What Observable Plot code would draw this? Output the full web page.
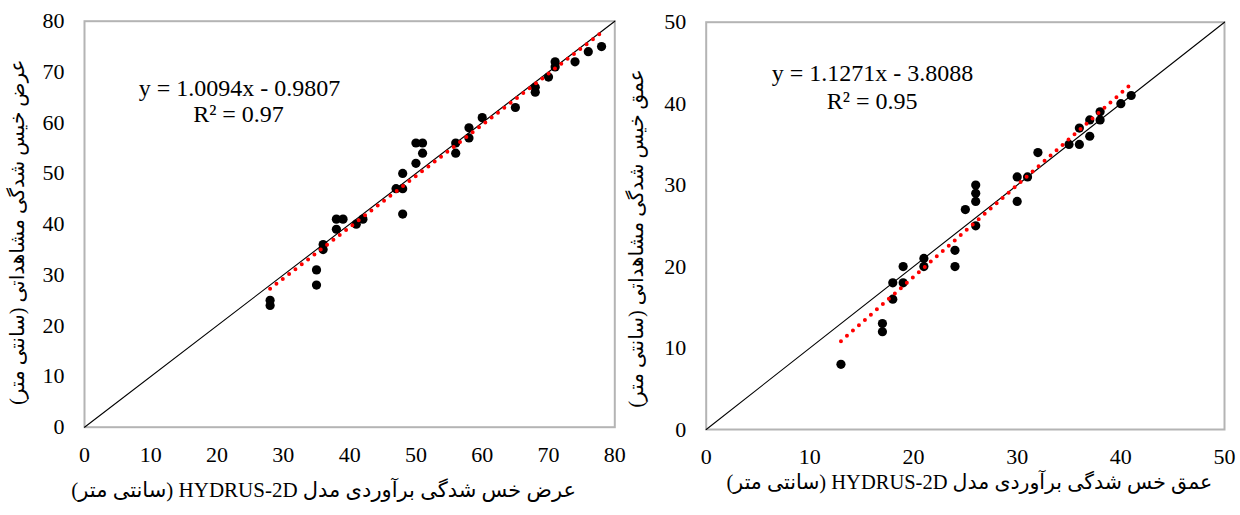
<!DOCTYPE html>
<html>
<head>
<meta charset="utf-8">
<script src="https://cdn.jsdelivr.net/npm/d3@7"></script>
<script src="https://cdn.jsdelivr.net/npm/@observablehq/plot@0.6"></script>
<style>
  body { margin: 0; background: #fff; }
  #wrap { position: relative; width: 1240px; height: 515px; overflow: hidden; background: #fff; }
  #left, #right { position: absolute; top: 0; }
  #left { left: 0; }
  #right { left: 620px; }
  svg text { font-family: "Liberation Serif", "DejaVu Sans", serif; }
</style>
</head>
<body>
<div id="wrap"><div id="left"></div><div id="right"></div></div>
<script>
// ---- Left panel: wetted width (cm) ----
const widthTicks = [0, 10, 20, 30, 40, 50, 60, 70, 80];
const widthPredicted = [28, 28, 35, 35, 36, 36, 38, 39, 38, 41, 42, 47, 48, 48, 48, 50, 50, 51, 51, 56, 56, 58, 58, 60, 65, 68, 68, 70, 71, 71, 74, 76, 78];
const widthObserved  = [25, 24, 31, 28, 36, 35, 41, 41, 39, 40, 41, 47, 47, 50, 42, 52, 56, 56, 54, 56, 54, 59, 57, 61, 63, 67, 66, 69, 72, 71, 72, 74, 75];
const widthTrendRange = [28, 78];
const widthSlope = 1.0094, widthIntercept = -0.9807;
const widthEquation = "y = 1.0094x - 0.9807";
const widthR2 = "R² = 0.97";
const widthXTitle = "عرض خس شدگی برآوردی مدل HYDRUS-2D (سانتی متر)";
const widthYTitle = "عرض خیس شدگی مشاهداتی (سانتی متر)";

// ---- Right panel: wetted depth (cm) ----
const depthTicks = [0, 10, 20, 30, 40, 50];
const depthPredicted = [13, 17, 17, 18, 18, 19, 19, 21, 21, 24, 24, 25, 26, 26, 26, 26, 30, 30, 31, 32, 35, 36, 36, 37, 37, 38, 38, 40, 41];
const depthObserved  = [8, 13, 12, 18, 16, 20, 18, 21, 20, 22, 20, 27, 30, 29, 28, 25, 31, 28, 31, 34, 35, 37, 35, 38, 36, 39, 38, 40, 41];
const depthTrendRange = [13, 41];
const depthSlope = 1.1271, depthIntercept = -3.8088;
const depthEquation = "y = 1.1271x - 3.8088";
const depthR2 = "R² = 0.95";
const depthXTitle = "عمق خس شدگی برآوردی مدل HYDRUS-2D (سانتی متر)";
const depthYTitle = "عمق خیس شدگی مشاهداتی (سانتی متر)";

const serif = "Liberation Serif, DejaVu Sans, serif";

function panel(o) {
  const pts = o.px.map((x, i) => ({x, y: o.py[i]}));
  const dom = [o.ticks[0], o.ticks[o.ticks.length - 1]];
  const ident = dom.map(v => ({x: v, y: v}));
  const trend = o.trendRange.map(x => ({x, y: o.slope * x + o.intercept}));
  const svg = Plot.plot({
    width: 620, height: 515,
    marginLeft: o.m[0], marginRight: o.m[1], marginTop: o.m[2], marginBottom: o.m[3],
    x: {domain: dom},
    y: {domain: dom},
    style: {fontSize: "22px", background: "transparent", color: "black", overflow: "visible"},
    marks: [
      Plot.frame({stroke: "#b4b4b4", strokeWidth: 2}),
      Plot.axisX({ticks: o.ticks, tickSize: 0, tickPadding: 19, label: null, fontSize: 22}),
      Plot.axisY({ticks: o.ticks, tickSize: 0, tickPadding: 20, label: null, fontSize: 22}),
      Plot.dot(pts, {x: "x", y: "y", r: 4.6, fill: "black", stroke: "none"}),
      Plot.line(ident, {x: "x", y: "y", stroke: "black", strokeWidth: 1.1}),
      Plot.line(trend, {x: "x", y: "y", stroke: "#ff0000", strokeWidth: 4, strokeDasharray: "0 8", strokeLinecap: "round"}),
      Plot.text([o.eq], {text: d => d, frameAnchor: "top-left", textAnchor: "middle", dx: o.eqPos[0], dy: o.eqPos[1], fontSize: 24, fill: "black"}),
      Plot.text([o.r2], {text: d => d, frameAnchor: "top-left", textAnchor: "middle", dx: o.r2Pos[0], dy: o.r2Pos[1], fontSize: 24, fill: "black"}),
      Plot.text([o.xTitle], {text: d => d, frameAnchor: "bottom", textAnchor: "middle", dx: o.xTitlePos[0], dy: o.xTitlePos[1], fontSize: o.xTitleSize, fill: "black"}),
      Plot.text([o.yTitle], {text: d => d, frameAnchor: "left", textAnchor: "middle", dx: o.yTitlePos[0], dy: o.yTitlePos[1], rotate: -90, fontSize: 20, fill: "black"})
    ]
  });
  svg.style.fontFamily = serif;
  svg.querySelectorAll("text").forEach(t => {
    t.style.fontFamily = serif;
    if (/[\u0600-\u06FF]/.test(t.textContent)) {
      t.setAttribute("direction", "rtl");
      t.style.direction = "rtl";
      t.style.unicodeBidi = "embed";
    }
  });
  return svg;
}

document.getElementById("left").appendChild(panel({
  px: widthPredicted, py: widthObserved, ticks: widthTicks,
  trendRange: widthTrendRange, slope: widthSlope, intercept: widthIntercept,
  eq: widthEquation, r2: widthR2, xTitle: widthXTitle, yTitle: widthYTitle,
  m: [84, 5.7, 20.7, 88.3],
  eqPos: [155, 57.3], r2Pos: [154, 84],
  xTitlePos: [-26, 70], xTitleSize: 21, yTitlePos: [-67, 8]
}));

document.getElementById("right").appendChild(panel({
  px: depthPredicted, py: depthObserved, ticks: depthTicks,
  trendRange: depthTrendRange, slope: depthSlope, intercept: depthIntercept,
  eq: depthEquation, r2: depthR2, xTitle: depthXTitle, yTitle: depthYTitle,
  m: [85.7, 16, 21.7, 86],
  eqPos: [166.3, 41.8], r2Pos: [166, 69.8],
  xTitlePos: [4, 59], xTitleSize: 20.5, yTitlePos: [-70, 12.6]
}));
</script>
</body>
</html>
